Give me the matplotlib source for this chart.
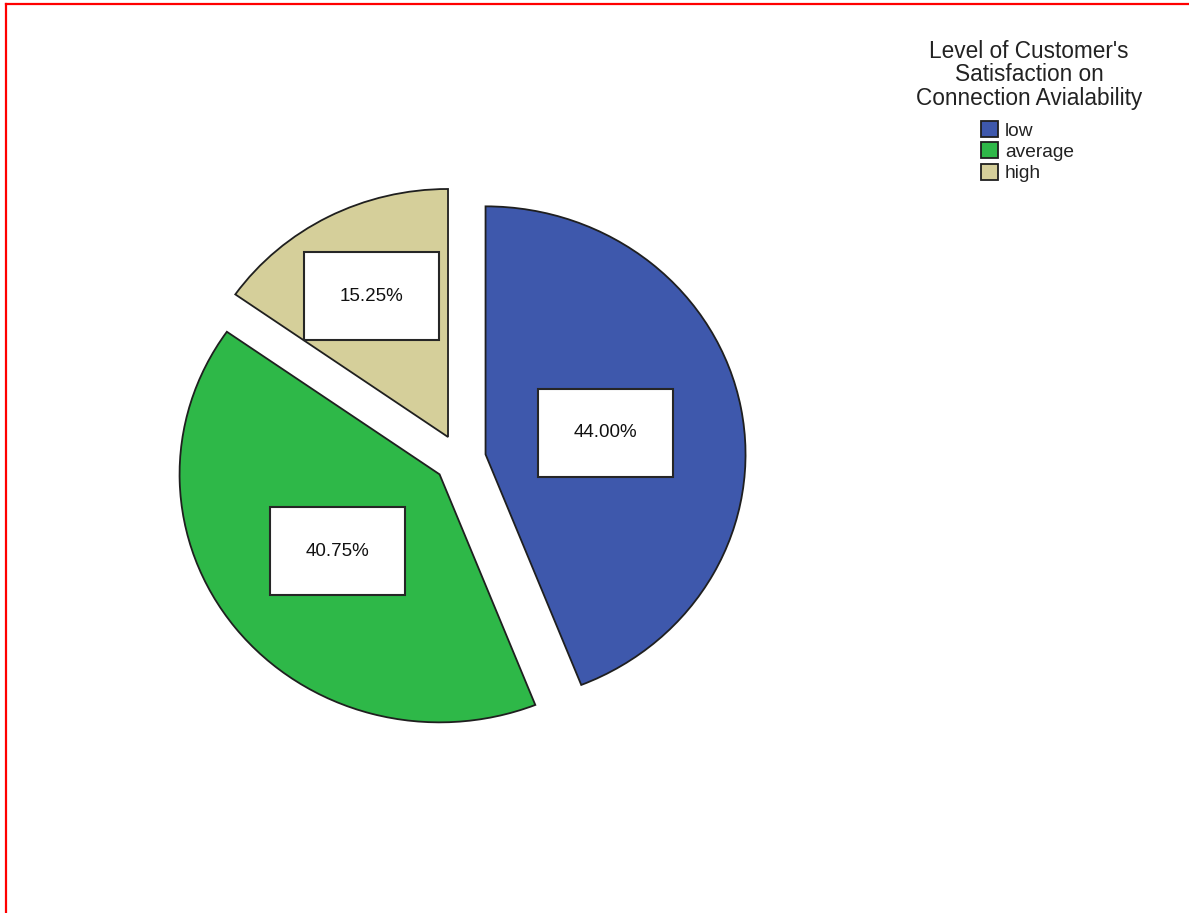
import numpy as np
import matplotlib
matplotlib.use("Agg")
import matplotlib.pyplot as plt
from matplotlib.patches import Patch, Rectangle
from matplotlib.lines import Line2D

plt.rcParams['font.family'] = ['Liberation Sans', 'DejaVu Sans']

# ---- data ----
categories = ["low", "average", "high"]
percentages = [44.00, 40.75, 15.25]
legend_title = "Level of Customer's\nSatisfaction on\nConnection Avialability"

# ---- style ----
colors = ["#3E58AC", "#2EB848", "#D5CF9A"]
edge = "#1f1f1f"
label_dist = [0.47, 0.50, 0.64]

W, H = 1189, 913
fig = plt.figure(figsize=(W / 100, H / 100), dpi=100)

# pie centre ~ (460, 459) px, radius ~260 px horizontally, ~248 px vertically
cx, cy, rx, ry = 460, 459, 260, 248
half = 1.5
ax = fig.add_axes([(cx - half * rx) / W, (H - cy - half * ry) / H,
                   2 * half * rx / W, 2 * half * ry / H])

wedges, _ = ax.pie(percentages, colors=colors, startangle=90, counterclock=False,
                   explode=[0.1] * len(percentages),
                   wedgeprops=dict(edgecolor=edge, linewidth=1.3))
ax.set_aspect('auto')
ax.set_xlim(-half, half)
ax.set_ylim(-half, half)
ax.axis('off')

bw, bh = 135 / rx, 88 / ry
for w, p, d in zip(wedges, percentages, label_dist):
    mid = np.deg2rad((w.theta1 + w.theta2) / 2)
    ox, oy = w.center
    x = ox + d * np.cos(mid)
    y = oy + d * np.sin(mid)
    ax.add_patch(Rectangle((x - bw / 2, y - bh / 2), bw, bh, facecolor='white',
                           edgecolor='#262626', linewidth=1.5, zorder=5))
    ax.text(x, y, f"{p:.2f}%", ha='center', va='center', fontsize=13.5,
            color='#111111', zorder=6)

# legend title
fig.text(1029 / W, 1 - 40 / H, legend_title, ha='center', va='top',
         fontsize=16.3, linespacing=1.02, color='#222222')

handles = [Patch(facecolor=c, edgecolor=edge, linewidth=1.3) for c in colors]
fig.legend(handles, categories, loc='upper left',
           bbox_to_anchor=(981 / W, 1 - 121 / H), frameon=False,
           fontsize=13.8, handlelength=0.9, handleheight=0.9,
           handletextpad=0.35, labelspacing=0.15, borderpad=0,
           borderaxespad=0, labelcolor='#222222')

# red frame
fig.add_artist(Line2D([6 / W, 1], [1 - 4 / H, 1 - 4 / H], color='red',
                      linewidth=1.6, transform=fig.transFigure))
fig.add_artist(Line2D([6 / W, 6 / W], [0, 1 - 4 / H], color='red',
                      linewidth=1.6, transform=fig.transFigure))

fig.savefig("out.png", dpi=100, facecolor='white')
